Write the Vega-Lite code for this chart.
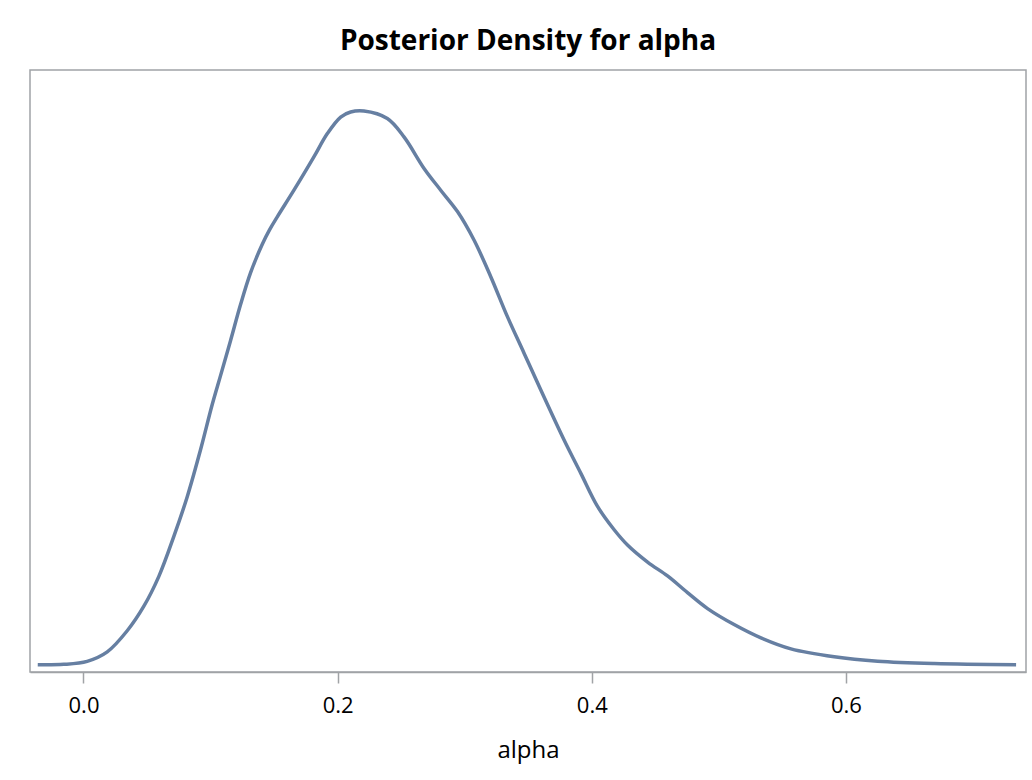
{
  "$schema": "https://vega.github.io/schema/vega-lite/v6.json",
  "width": 996,
  "height": 602,
  "autosize": {"type": "none"},
  "padding": {"left": 30, "top": 70, "right": 6, "bottom": 108},
  "background": "white",
  "title": {
    "text": "Posterior Density for alpha",
    "font": "Open Sans",
    "fontSize": 28,
    "fontWeight": "bold",
    "color": "#000000",
    "anchor": "middle",
    "offset": 14
  },
  "config": {
    "view": {"stroke": "#a0a3a6", "strokeWidth": 1.5},
    "axis": {"grid": false}
  },
  "data": {
    "values": [
      {"alpha": -0.036, "density": 0.005},
      {"alpha": -0.0155, "density": 0.008},
      {"alpha": 0.0029, "density": 0.03},
      {"alpha": 0.0187, "density": 0.098},
      {"alpha": 0.0344, "density": 0.25},
      {"alpha": 0.0475, "density": 0.427},
      {"alpha": 0.0593, "density": 0.642},
      {"alpha": 0.0711, "density": 0.93},
      {"alpha": 0.0817, "density": 1.218},
      {"alpha": 0.0921, "density": 1.554},
      {"alpha": 0.1013, "density": 1.88},
      {"alpha": 0.1079, "density": 2.09},
      {"alpha": 0.1157, "density": 2.34},
      {"alpha": 0.1236, "density": 2.6},
      {"alpha": 0.1315, "density": 2.83},
      {"alpha": 0.1407, "density": 3.035},
      {"alpha": 0.1465, "density": 3.14},
      {"alpha": 0.1525, "density": 3.232},
      {"alpha": 0.1656, "density": 3.424},
      {"alpha": 0.1813, "density": 3.664},
      {"alpha": 0.1919, "density": 3.832},
      {"alpha": 0.2024, "density": 3.951},
      {"alpha": 0.2102, "density": 3.987},
      {"alpha": 0.2207, "density": 3.994},
      {"alpha": 0.2391, "density": 3.94},
      {"alpha": 0.2522, "density": 3.808},
      {"alpha": 0.268, "density": 3.581},
      {"alpha": 0.2811, "density": 3.424},
      {"alpha": 0.2943, "density": 3.27},
      {"alpha": 0.3073, "density": 3.065},
      {"alpha": 0.3205, "density": 2.801},
      {"alpha": 0.3336, "density": 2.513},
      {"alpha": 0.3467, "density": 2.25},
      {"alpha": 0.3598, "density": 1.986},
      {"alpha": 0.3781, "density": 1.626},
      {"alpha": 0.3913, "density": 1.386},
      {"alpha": 0.4045, "density": 1.146},
      {"alpha": 0.4176, "density": 0.978},
      {"alpha": 0.4281, "density": 0.868},
      {"alpha": 0.4439, "density": 0.745},
      {"alpha": 0.4596, "density": 0.645},
      {"alpha": 0.4753, "density": 0.525},
      {"alpha": 0.4911, "density": 0.41},
      {"alpha": 0.512, "density": 0.295},
      {"alpha": 0.5331, "density": 0.199},
      {"alpha": 0.5567, "density": 0.12},
      {"alpha": 0.5908, "density": 0.063},
      {"alpha": 0.625, "density": 0.031},
      {"alpha": 0.6695, "density": 0.014},
      {"alpha": 0.7339, "density": 0.005}
    ]
  },
  "mark": {"type": "line", "color": "#667fa2", "strokeWidth": 3.5, "interpolate": "catmull-rom"},
  "encoding": {
    "x": {
      "field": "alpha",
      "type": "quantitative",
      "scale": {"domain": [-0.0421, 0.7417], "nice": false, "zero": false},
      "axis": {
        "title": "alpha",
        "values": [0, 0.2, 0.4, 0.6],
        "format": ".1f",
        "domainColor": "#a0a3a6",
        "domainWidth": 1.5,
        "tickColor": "#a0a3a6",
        "tickWidth": 1.5,
        "tickSize": 11,
        "labelFont": "Open Sans",
        "labelFontSize": 22,
        "labelColor": "#000000",
        "labelPadding": 12,
        "titleFont": "Open Sans",
        "titleFontSize": 24,
        "titleFontWeight": "normal",
        "titleColor": "#000000",
        "titlePadding": 22
      }
    },
    "y": {
      "field": "density",
      "type": "quantitative",
      "scale": {"domain": [-0.047, 4.29], "nice": false, "zero": false},
      "axis": null
    }
  }
}
